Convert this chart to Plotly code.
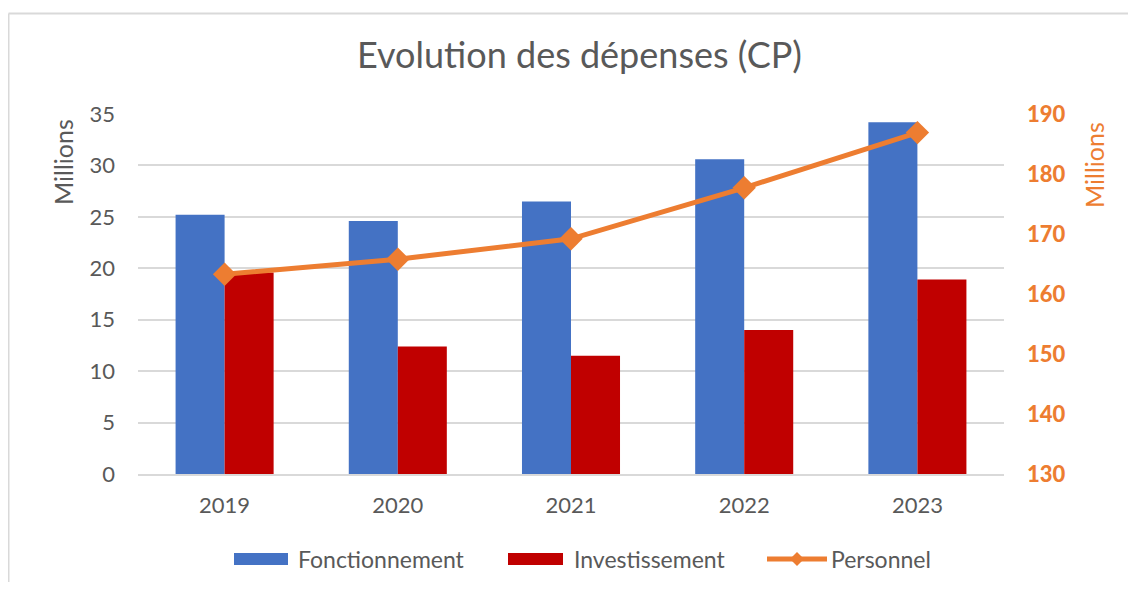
import plotly.graph_objects as go

years = ["2019", "2020", "2021", "2022", "2023"]
fonctionnement = [25.2, 24.6, 26.5, 30.6, 34.2]
investissement = [19.6, 12.4, 11.5, 14.0, 18.9]
personnel = [163.3, 165.8, 169.2, 177.7, 186.9]

left_ticks = [0, 5, 10, 15, 20, 25, 30, 35]
right_ticks = [130, 140, 150, 160, 170, 180, 190]

BLUE = "#4472C4"
RED = "#C00000"
ORANGE = "#ED7D31"
GRAY = "#595959"
GRID = "#D9D9D9"
FONT = "Lato"

fig = go.Figure()
fig.add_trace(go.Bar(x=years, y=fonctionnement, name="Fonctionnement",
                     marker=dict(color=BLUE, line=dict(width=0)), yaxis="y"))
fig.add_trace(go.Bar(x=years, y=investissement, name="Investissement",
                     marker=dict(color=RED, line=dict(width=0)), yaxis="y"))
fig.add_trace(go.Scatter(x=years, y=personnel, name="Personnel", yaxis="y2",
                         mode="lines+markers",
                         line=dict(color=ORANGE, width=5),
                         marker=dict(symbol="diamond", size=18, color=ORANGE)))

# page offset (body margin) and figure geometry
OFF = 8
W, H = 1120, 574
L, T = 130, 106           # plot area left/top inside figure
PR, PB = 996, 466         # plot area right/bottom inside figure
R, B = W - PR, H - PB
pw, ph = PR - L, PB - T


def px_x(s):
    """screen x -> paper x"""
    return (s - OFF - L) / pw


def px_y(s):
    """screen y -> paper y"""
    return (PB - (s - OFF)) / ph


fig.update_layout(
    width=W, height=H,
    margin=dict(l=L, r=R, t=T, b=B),
    paper_bgcolor="white", plot_bgcolor="white",
    font=dict(family=FONT, color=GRAY),
    barmode="group", bargap=0.434, bargroupgap=0,
    showlegend=False,
    title=dict(text="Evolution des dépenses (CP)", xref="container",
               x=(579.5 - OFF) / W, xanchor="center",
               yref="container", y=1 - (55 - OFF) / H, yanchor="middle",
               font=dict(family=FONT, size=36, color=GRAY)),
    xaxis=dict(showgrid=False, showline=True, linecolor=GRID, linewidth=1.5,
               ticks="", tickfont=dict(size=22, color=GRAY), ticklabelstandoff=11),
    yaxis=dict(range=[0, 35], tickvals=left_ticks, showgrid=True, gridcolor=GRID,
               gridwidth=1.5, zeroline=False, showline=False, ticks="",
               tickfont=dict(size=22, color=GRAY), ticklabelstandoff=22),
    yaxis2=dict(range=[130, 190], tickvals=right_ticks, overlaying="y", side="right",
                showgrid=False, zeroline=False, showline=False, ticks="",
                tickfont=dict(size=22, color=ORANGE, family="Lato Black, Lato",
                              weight="bold"),
                ticklabelstandoff=22),
)

# axis titles placed at the top of each axis, as in the reference
fig.add_annotation(text="Millions", textangle=-90, xref="paper", yref="paper",
                   x=px_x(62.5), y=px_y(162.5), xanchor="center", yanchor="middle",
                   showarrow=False, font=dict(size=25, color=GRAY, family=FONT))
fig.add_annotation(text="Millions", textangle=-90, xref="paper", yref="paper",
                   x=px_x(1094), y=px_y(165), xanchor="center", yanchor="middle",
                   showarrow=False, font=dict(size=25, color=ORANGE, family=FONT))

# legend (wide swatches like the reference)
LEG_Y = 559
legend_items = [
    ("Fonctionnement", "bar", BLUE, 234, 288, 296),
    ("Investissement", "bar", RED, 508, 563, 572),
    ("Personnel", "line", ORANGE, 767, 827, 829),
]
for name, kind, color, s0, s1, tx in legend_items:
    if kind == "bar":
        fig.add_shape(type="rect", xref="paper", yref="paper",
                      x0=px_x(s0), x1=px_x(s1), y0=px_y(LEG_Y - 6), y1=px_y(LEG_Y + 6),
                      fillcolor=color, line=dict(width=0))
    else:
        fig.add_shape(type="line", xref="paper", yref="paper",
                      x0=px_x(s0), x1=px_x(s1), y0=px_y(LEG_Y), y1=px_y(LEG_Y),
                      line=dict(color=color, width=5))
        cx = (s0 + s1) / 2
        d = 7
        path = (f"M {px_x(cx - d)},{px_y(LEG_Y)} L {px_x(cx)},{px_y(LEG_Y - d)} "
                f"L {px_x(cx + d)},{px_y(LEG_Y)} L {px_x(cx)},{px_y(LEG_Y + d)} Z")
        fig.add_shape(type="path", xref="paper", yref="paper", path=path,
                      fillcolor=color, line=dict(width=0))
    fig.add_annotation(text=name, xref="paper", yref="paper",
                       x=px_x(tx), y=px_y(LEG_Y), xanchor="left", yanchor="middle",
                       showarrow=False, font=dict(size=23, color=GRAY, family=FONT))

# chart border (top and left edges visible)
fig.add_shape(type="line", xref="paper", yref="paper",
              x0=px_x(8.5), x1=px_x(1140), y0=px_y(13.5), y1=px_y(13.5),
              line=dict(color=GRID, width=2))
fig.add_shape(type="line", xref="paper", yref="paper",
              x0=px_x(8.5), x1=px_x(8.5), y0=px_y(13.5), y1=px_y(600),
              line=dict(color=GRID, width=2))

fig.write_html("out.html")
